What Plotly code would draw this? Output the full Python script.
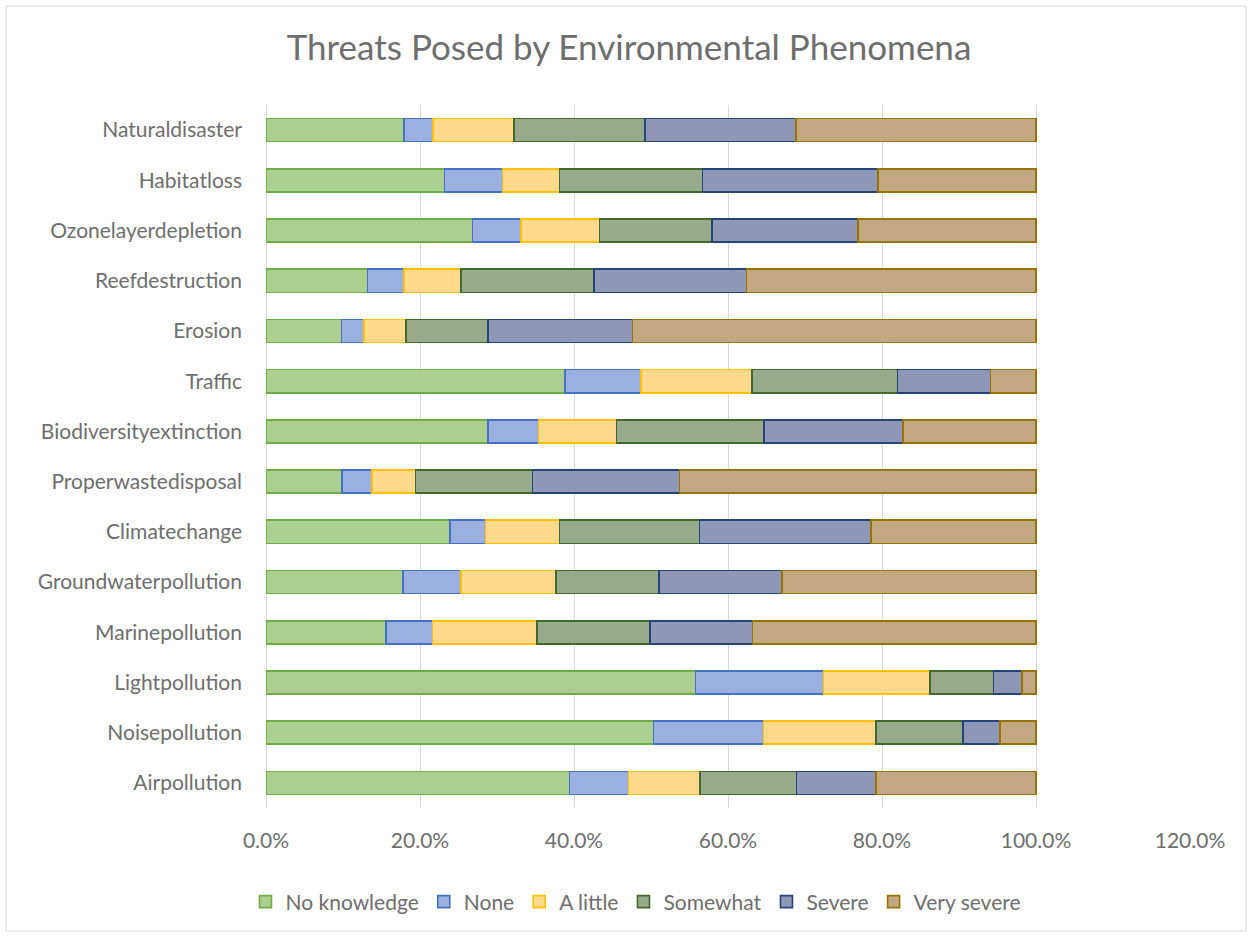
import plotly.graph_objects as go

# Phenomena, listed bottom to top as they appear on the y axis
categories = [
    "Airpollution", "Noisepollution", "Lightpollution", "Marinepollution",
    "Groundwaterpollution", "Climatechange", "Properwastedisposal",
    "Biodiversityextinction", "Traffic", "Erosion", "Reefdestruction",
    "Ozonelayerdepletion", "Habitatloss", "Naturaldisaster",
]

# Share of respondents (%) per threat level, same order as categories
no_knowledge = [39.4, 50.3, 55.8, 15.6, 17.8, 23.9, 9.9, 28.8, 38.8, 9.8, 13.2, 26.8, 23.2, 17.9]
none_ = [7.7, 14.3, 16.6, 6.0, 7.5, 4.6, 3.9, 6.6, 9.9, 2.9, 4.7, 6.3, 7.5, 3.8]
a_little = [9.3, 14.6, 13.8, 13.6, 12.4, 9.6, 5.6, 10.1, 14.4, 5.5, 7.4, 10.2, 7.4, 10.5]
somewhat = [12.5, 11.3, 8.3, 14.7, 13.3, 18.2, 15.2, 19.2, 18.9, 10.6, 17.3, 14.6, 18.6, 17.0]
severe = [10.3, 4.8, 3.7, 13.3, 16.0, 22.3, 19.1, 18.0, 12.1, 18.8, 19.8, 19.0, 22.8, 19.6]
very_severe = [20.8, 4.7, 1.8, 36.8, 33.0, 21.4, 46.3, 17.3, 5.9, 52.4, 37.6, 23.1, 20.5, 31.2]

series_names = ["No knowledge", "None", "A little", "Somewhat", "Severe", "Very severe"]
series_values = [no_knowledge, none_, a_little, somewhat, severe, very_severe]
fill_colors = ["#AACF8E", "#9BAFE0", "#FFD98C", "#98AA8C", "#8E97B5", "#C2A881"]
line_colors = ["#70AD47", "#4472C4", "#FFC000", "#43682B", "#264478", "#997300"]

FONT = "Lato, 'Open Sans', sans-serif"
TEXT = "#6e6e6e"

fig = go.Figure()
for name, vals, fc, lc in zip(series_names, series_values, fill_colors, line_colors):
    fig.add_trace(go.Bar(
        y=categories,
        x=[v / 100 for v in vals],
        name=name,
        orientation="h",
        marker=dict(color=fc, line=dict(color=lc, width=1.6)),
        hovertemplate="%{y}: %{x:.1%}<extra>" + name + "</extra>",
    ))

W, H = 1252, 937
L, R, T, B = 266, 62, 105, 129
pw, ph = W - L - R, H - T - B


def px_x(p):
    return (p - L) / pw


def px_y(p):
    return (H - B - p) / ph


fig.update_layout(
    width=W, height=H,
    barmode="stack",
    bargap=0.54,
    plot_bgcolor="white",
    paper_bgcolor="white",
    margin=dict(l=L, r=R, t=T, b=B),
    font=dict(family=FONT, color=TEXT, size=21),
    title=dict(
        text="Threats Posed by Environmental Phenomena",
        x=px_x(629), xanchor="center", xref="paper",
        y=1 - 48 / H, yanchor="middle",
        font=dict(family=FONT, size=35, color=TEXT),
    ),
    xaxis=dict(
        range=[0, 1.2], dtick=0.2, tick0=0, tickformat=".1%",
        showgrid=True, gridcolor="#d9d9d9", gridwidth=1,
        zeroline=True, zerolinecolor="#d9d9d9", zerolinewidth=1,
        showline=False, ticks="",
        tickfont=dict(family=FONT, size=21, color=TEXT),
        ticklabelstandoff=18,
    ),
    yaxis=dict(
        showgrid=False, zeroline=False, showline=False, ticks="",
        tickfont=dict(family=FONT, size=21, color=TEXT),
        ticklabelstandoff=23,
    ),
    legend=dict(
        orientation="h",
        x=px_x(636), xanchor="center",
        y=px_y(902), yanchor="middle",
        font=dict(family=FONT, size=21, color=TEXT),
        traceorder="normal",
        itemwidth=30,
    ),
    shapes=[dict(
        type="rect", xref="paper", yref="paper",
        x0=px_x(6), x1=px_x(1246), y0=px_y(931), y1=px_y(6),
        line=dict(color="#d9d9d9", width=1), fillcolor="rgba(0,0,0,0)",
        layer="below",
    )],
)

fig.write_html("out.html")
